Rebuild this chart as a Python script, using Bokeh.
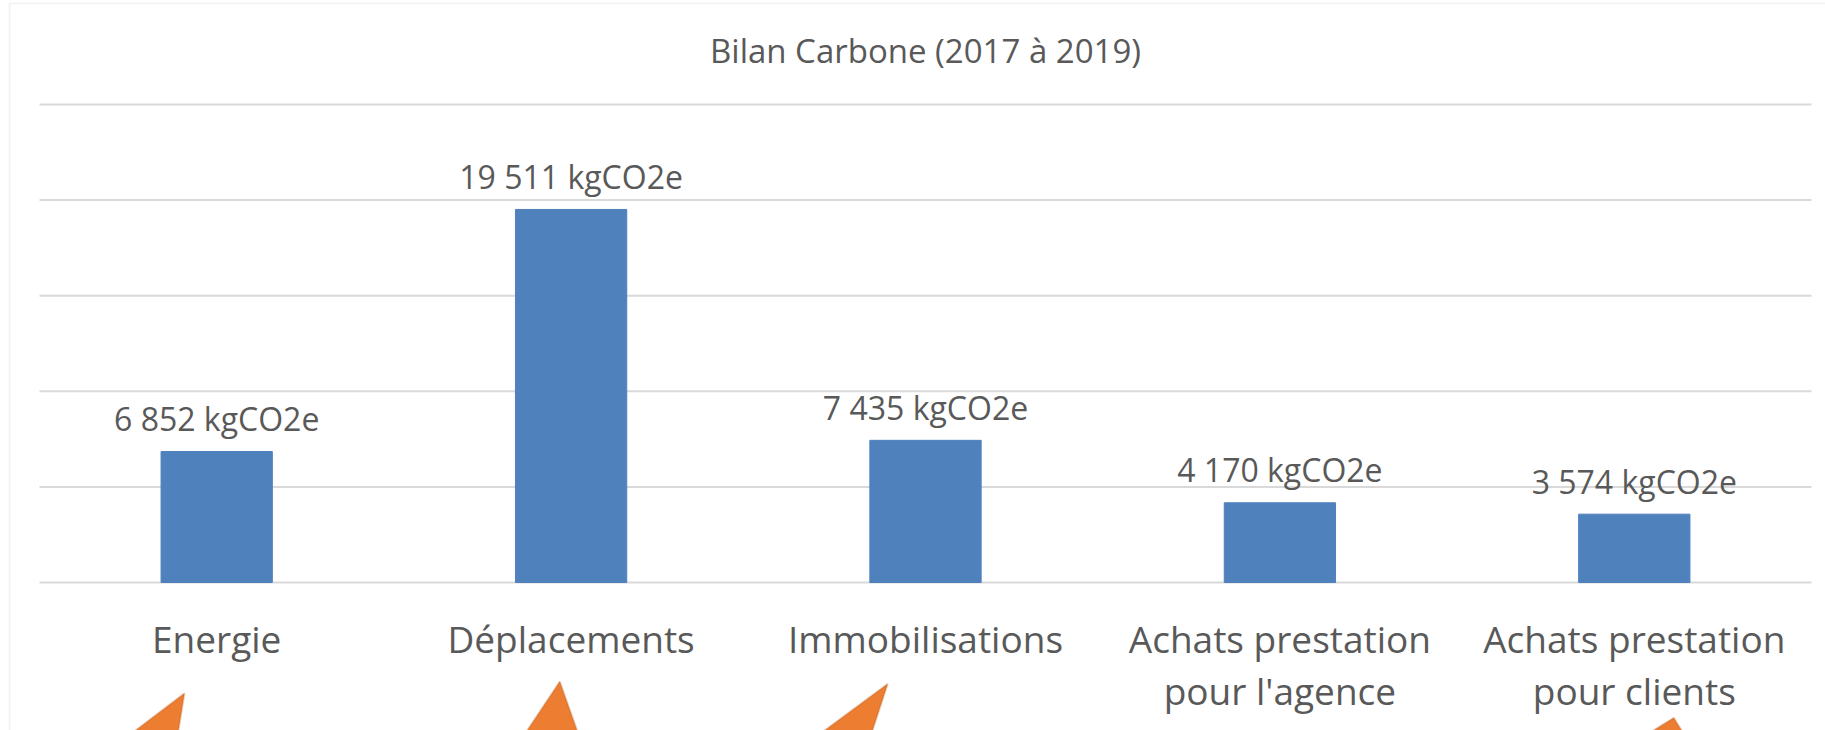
from bokeh.plotting import figure
from bokeh.models import Range1d, PolyAnnotation, BoxAnnotation, ColumnDataSource
from bokeh.core.properties import value
from bokeh.embed import file_html
from bokeh.resources import INLINE

# ---- data ----
categories = ["Energie", "Déplacements", "Immobilisations",
              "Achats prestation\npour l'agence", "Achats prestation\npour clients"]
emissions_kg = [6852, 19511, 7435, 4170, 3574]
y_ticks = [0, 5000, 10000, 15000, 20000, 25000]
title_text = "Bilan Carbone (2017 à 2019)"
unit = "kgCO2e"

# ---- layout (pixels) ----
W, H = 1825, 730
PLOT_L, PLOT_R, PLOT_T, PLOT_B = 39, 1811, 104, 582
Y_MAX = y_ticks[-1]

n = len(categories)
idx = list(range(n))
band = (PLOT_R - PLOT_L) / n
per_px = Y_MAX / (PLOT_B - PLOT_T)

x_range = Range1d(-0.5 - PLOT_L / band, n - 0.5 + (W - PLOT_R) / band)
y_range = Range1d(-(H - PLOT_B) * per_px, Y_MAX + PLOT_T * per_px)

labels = [f"{v:,}".replace(",", " ") + " " + unit for v in emissions_kg]
src = ColumnDataSource(dict(x=idx, val=emissions_kg, lab=labels, cat=categories,
                            zero=[0] * n))

FONT = "Open Sans"
TXT = "#595959"
GRID = "#D9D9D9"
BAR = "#4F81BD"

p = figure(x_range=x_range, y_range=y_range, width=W, height=H,
           output_backend="svg", toolbar_location=None,
           x_axis_location=None, y_axis_location=None, min_border=0)
p.background_fill_color = "white"
p.border_fill_color = "white"
p.outline_line_color = None
p.grid.visible = False

# horizontal gridlines across the category bands
p.segment(x0=[-0.5] * len(y_ticks), x1=[n - 0.5] * len(y_ticks),
          y0=y_ticks, y1=y_ticks, line_color=GRID, line_width=2)

p.vbar(x="x", top="val", width=0.314, source=src,
       fill_color=BAR, line_color=BAR, line_width=1)

# data labels
p.text(x="x", y="val", text="lab", source=src,
       text_font=value(FONT), text_font_size="32px", text_color=TXT,
       text_align="center", text_baseline="alphabetic", y_offset=-33)

# category labels
p.text(x="x", y="zero", text="cat", source=src,
       text_font=value(FONT), text_font_size="37px", text_color=TXT,
       text_align="center", text_baseline="top", text_line_height=1.02,
       y_offset=30)

# title
p.text(x=[(n - 1) / 2], y=[y_range.end], text=[title_text],
       text_font=value(FONT), text_font_size="33px", text_color=TXT,
       text_align="center", text_baseline="middle", y_offset=50)

# chart-area border
p.add_layout(BoxAnnotation(left=9, right=1900, top=3, bottom=1000,
                           left_units="canvas", right_units="canvas",
                           top_units="canvas", bottom_units="canvas",
                           fill_alpha=0, line_color=GRID, line_width=2))

# decorative orange arrow shapes (canvas pixels)
arrow_shapes = [
    ([184.0, 131.0, 177.5], [692.7, 733, 733]),
    ([559.3, 524.7, 577.7], [681.0, 733, 733]),
    ([887.3, 820.0, 871.0], [683.3, 733, 733]),
    ([1673.3, 1648.0, 1683.0], [717.3, 733, 733]),
]
for xs, ys in arrow_shapes:
    p.add_layout(PolyAnnotation(xs=xs, ys=ys, xs_units="canvas", ys_units="canvas",
                                fill_color="#ED7D31", fill_alpha=1,
                                line_color="#B85C1E", line_width=2))

open("out.html", "w").write(file_html(p, INLINE))
